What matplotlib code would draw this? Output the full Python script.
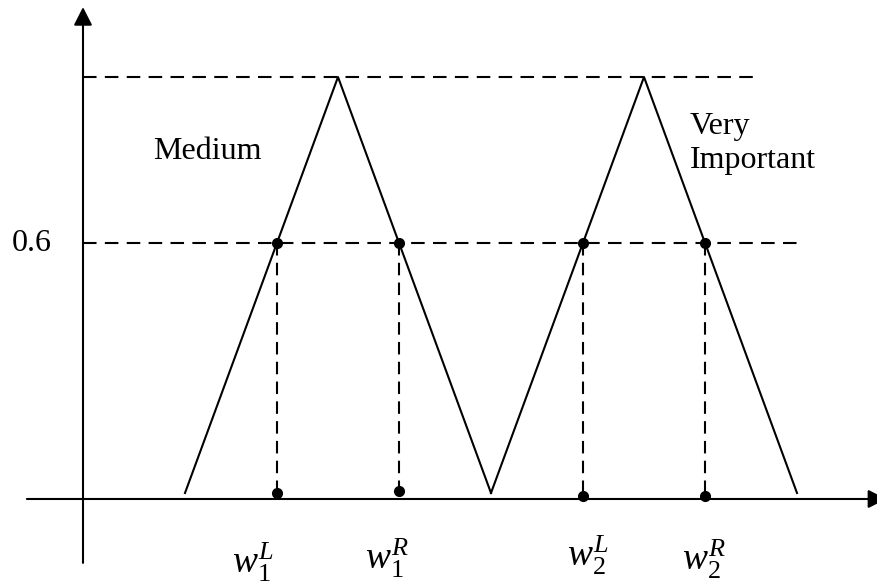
import matplotlib
matplotlib.use("Agg")
import matplotlib.pyplot as plt
import numpy as np

plt.rcParams['font.family'] = ['Liberation Serif', 'DejaVu Serif']
plt.rcParams['mathtext.fontset'] = 'custom'
plt.rcParams['mathtext.rm'] = 'Liberation Serif'
plt.rcParams['mathtext.it'] = 'Liberation Serif:italic'

# Dane: dwie trójkątne funkcje przynależności
medium_x = [2, 5, 8]
medium_y = [0, 1, 0]
important_x = [8, 11, 14]
important_y = [0, 1, 0]
alpha_level = 0.6

# punkty przecięcia z poziomem 0.6
cut_x = [3.8, 6.2, 9.8, 12.2]
cut_labels = [r'$w_1^L$', r'$w_1^R$', r'$w_2^L$', r'$w_2^R$']
label_shift = [-17, -9, 4, -1]      # przesunięcie etykiet (pt)
label_y = [-0.193, -0.183, -0.176, -0.186]
foot_y = [0.0, 0.005, -0.008, -0.008]

lw = 1.5
dash = (0, (6.5, 4))

fig = plt.figure(figsize=(8.78, 5.85), dpi=100)
ax = fig.add_axes([0, 0, 1, 1])
ax.set_xlim(-83 / 51, (878 - 83) / 51)
ax.set_ylim((493 - 585) / 416, 493 / 416)
ax.axis('off')

# osie ze strzałkami
arrow = dict(arrowstyle='-|>,head_length=0.55,head_width=0.28', lw=lw,
             color='k', shrinkA=0, shrinkB=0, mutation_scale=20)
ax.annotate('', xy=(15.75, -0.0144), xytext=(-1.1, -0.0144), arrowprops=arrow,
            annotation_clip=False)
ax.annotate('', xy=(0, 1.168), xytext=(0, -0.168), arrowprops=arrow,
            annotation_clip=False)

# linie przerywane poziome
ax.plot([0, 13.2], [1, 1], color='k', lw=lw, ls=dash)
ax.plot([0, 14.0], [alpha_level, alpha_level], color='k', lw=lw, ls=dash)

# trójkąty
ax.plot(medium_x, medium_y, color='k', lw=lw)
ax.plot(important_x, important_y, color='k', lw=lw)

# punkty i pionowe linie przerywane
for i, x in enumerate(cut_x):
    ax.plot([x, x], [alpha_level, foot_y[i]], color='k', lw=lw, ls=(0, (6, 3.5)))
    ax.plot([x, x], [alpha_level, foot_y[i]], 'o', color='k', ms=7)
    ax.annotate(cut_labels[i], xy=(x, label_y[i]), xytext=(label_shift[i], 0),
                textcoords='offset points', ha='center', va='baseline',
                fontsize=27)

ax.text(-0.61, alpha_level, '0.6', ha='right', va='center', fontsize=23)
ax.text(2.43, 0.82, 'Medium', ha='center', va='center', fontsize=23)
ax.text(11.9, 0.84, 'Very\nImportant', ha='left', va='center', fontsize=23)

plt.savefig('out.png', dpi=100)
